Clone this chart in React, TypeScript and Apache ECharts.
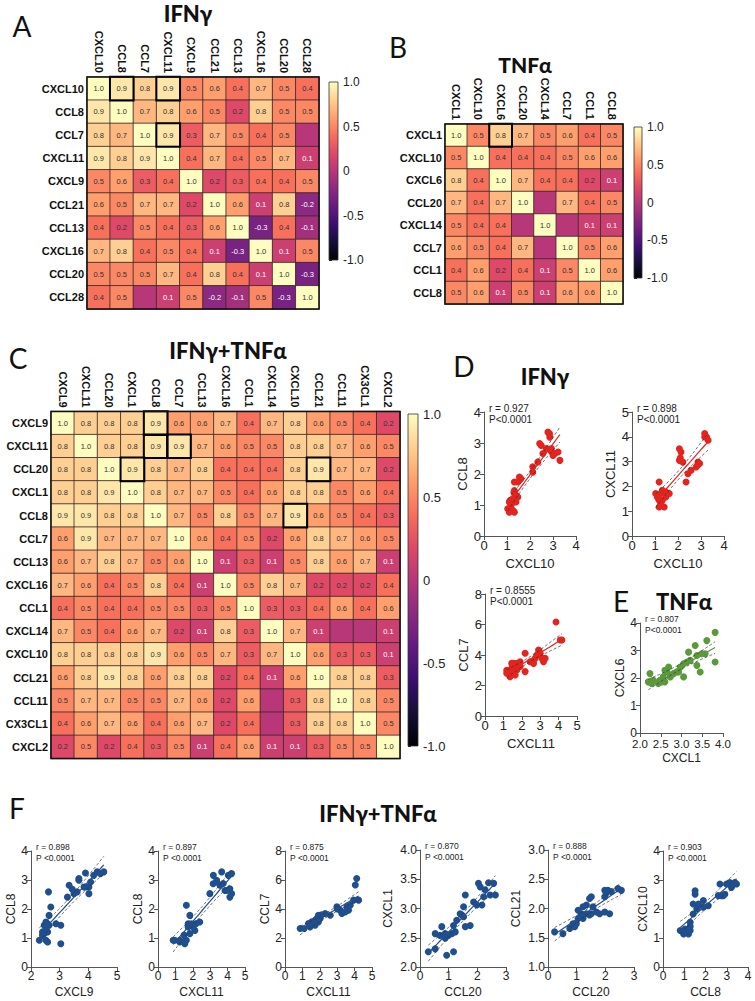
import React, { useEffect, useRef } from 'react';
import * as echarts from 'echarts';

// ---------------- DATA ----------------
const genesA = ['CXCL10', 'CCL8', 'CCL7', 'CXCL11', 'CXCL9', 'CCL21', 'CCL13', 'CXCL16', 'CCL20', 'CCL28'];
const corrA = [
  [1.0, 0.9, 0.8, 0.9, 0.5, 0.6, 0.4, 0.7, 0.5, 0.4],
  [0.9, 1.0, 0.7, 0.8, 0.6, 0.5, 0.2, 0.8, 0.5, 0.5],
  [0.8, 0.7, 1.0, 0.9, 0.3, 0.7, 0.5, 0.4, 0.5, 0.0],
  [0.9, 0.8, 0.9, 1.0, 0.4, 0.7, 0.4, 0.5, 0.7, 0.1],
  [0.5, 0.6, 0.3, 0.4, 1.0, 0.2, 0.3, 0.4, 0.4, 0.5],
  [0.6, 0.5, 0.7, 0.7, 0.2, 1.0, 0.6, 0.1, 0.8, -0.2],
  [0.4, 0.2, 0.5, 0.4, 0.3, 0.6, 1.0, -0.3, 0.4, -0.1],
  [0.7, 0.8, 0.4, 0.5, 0.4, 0.1, -0.3, 1.0, 0.1, 0.5],
  [0.5, 0.5, 0.5, 0.7, 0.4, 0.8, 0.4, 0.1, 1.0, -0.3],
  [0.4, 0.5, 0.0, 0.1, 0.5, -0.2, -0.1, 0.5, -0.3, 1.0],
];
const boxedA = [['CXCL10', 'CCL8'], ['CXCL10', 'CXCL11'], ['CCL7', 'CXCL11']];

const genesB = ['CXCL1', 'CXCL10', 'CXCL6', 'CCL20', 'CXCL14', 'CCL7', 'CCL1', 'CCL8'];
const corrB = [
  [1.0, 0.5, 0.8, 0.7, 0.5, 0.6, 0.4, 0.5],
  [0.5, 1.0, 0.4, 0.4, 0.4, 0.5, 0.6, 0.6],
  [0.8, 0.4, 1.0, 0.7, 0.4, 0.4, 0.2, 0.1],
  [0.7, 0.4, 0.7, 1.0, 0.0, 0.7, 0.4, 0.5],
  [0.5, 0.4, 0.4, 0.0, 1.0, 0.0, 0.1, 0.1],
  [0.6, 0.5, 0.4, 0.7, 0.0, 1.0, 0.5, 0.6],
  [0.4, 0.6, 0.2, 0.4, 0.1, 0.5, 1.0, 0.6],
  [0.5, 0.6, 0.1, 0.5, 0.1, 0.6, 0.6, 1.0],
];
const boxedB = [['CXCL1', 'CXCL6']];

const genesC = ['CXCL9', 'CXCL11', 'CCL20', 'CXCL1', 'CCL8', 'CCL7', 'CCL13', 'CXCL16', 'CCL1', 'CXCL14', 'CXCL10', 'CCL21', 'CCL11', 'CX3CL1', 'CXCL2'];
const corrC = [
  [1.0, 0.8, 0.8, 0.8, 0.9, 0.6, 0.6, 0.7, 0.4, 0.7, 0.8, 0.6, 0.5, 0.4, 0.2],
  [0.8, 1.0, 0.8, 0.8, 0.9, 0.9, 0.7, 0.6, 0.5, 0.5, 0.8, 0.8, 0.7, 0.6, 0.5],
  [0.8, 0.8, 1.0, 0.9, 0.8, 0.7, 0.8, 0.4, 0.4, 0.4, 0.8, 0.9, 0.7, 0.7, 0.2],
  [0.8, 0.8, 0.9, 1.0, 0.8, 0.7, 0.7, 0.5, 0.4, 0.6, 0.8, 0.8, 0.5, 0.6, 0.4],
  [0.9, 0.9, 0.8, 0.8, 1.0, 0.7, 0.5, 0.8, 0.5, 0.7, 0.9, 0.6, 0.5, 0.4, 0.3],
  [0.6, 0.9, 0.7, 0.7, 0.7, 1.0, 0.6, 0.4, 0.5, 0.2, 0.6, 0.8, 0.7, 0.6, 0.5],
  [0.6, 0.7, 0.8, 0.7, 0.5, 0.6, 1.0, 0.1, 0.3, 0.1, 0.5, 0.8, 0.6, 0.7, 0.1],
  [0.7, 0.6, 0.4, 0.5, 0.8, 0.4, 0.1, 1.0, 0.5, 0.8, 0.7, 0.2, 0.2, 0.2, 0.4],
  [0.4, 0.5, 0.4, 0.4, 0.5, 0.5, 0.3, 0.5, 1.0, 0.3, 0.3, 0.4, 0.6, 0.4, 0.6],
  [0.7, 0.5, 0.4, 0.6, 0.7, 0.2, 0.1, 0.8, 0.3, 1.0, 0.7, 0.1, 0.0, 0.0, 0.1],
  [0.8, 0.8, 0.8, 0.8, 0.9, 0.6, 0.5, 0.7, 0.3, 0.7, 1.0, 0.6, 0.3, 0.3, 0.1],
  [0.6, 0.8, 0.9, 0.8, 0.6, 0.8, 0.8, 0.2, 0.4, 0.1, 0.6, 1.0, 0.8, 0.8, 0.3],
  [0.5, 0.7, 0.7, 0.5, 0.5, 0.7, 0.6, 0.2, 0.6, 0.0, 0.3, 0.8, 1.0, 0.8, 0.5],
  [0.4, 0.6, 0.7, 0.6, 0.4, 0.6, 0.7, 0.2, 0.4, 0.0, 0.3, 0.8, 0.8, 1.0, 0.5],
  [0.2, 0.5, 0.2, 0.4, 0.3, 0.5, 0.1, 0.4, 0.6, 0.1, 0.1, 0.3, 0.5, 0.5, 1.0],
];
const boxedC = [['CXCL9', 'CCL8'], ['CXCL11', 'CCL8'], ['CXCL11', 'CCL7'], ['CCL20', 'CXCL1'], ['CCL20', 'CCL21'], ['CCL8', 'CXCL10']];

const colorbarTicks = [-1, -0.5, 0, 0.5, 1];

// Scatter points [x, y]
const d1Points = [[2.78, 3.35], [2.86, 3.19], [2.85, 3.3], [3.22, 2.71], [3.3, 2.44], [2.93, 2.82], [2.71, 2.82], [2.49, 2.92], [2.42, 2.98], [2.56, 2.66], [3.08, 2.66], [3.0, 2.6], [2.34, 2.39], [2.12, 2.23], [2.12, 2.06], [1.6, 1.85], [1.54, 1.9], [1.47, 1.74], [1.32, 1.74], [1.32, 1.47], [1.39, 1.31], [1.47, 1.26], [1.25, 1.2], [1.1, 1.1], [1.17, 0.99], [1.03, 0.88], [1.25, 0.83], [1.1, 0.77], [1.32, 0.77], [1.17, 0.83], [1.39, 1.1], [1.2, 1.05], [1.15, 1.15], [1.3, 1.4], [2.9, 2.75]];
const d2Points = [[3.16, 4.13], [3.24, 3.99], [3.31, 3.86], [3.16, 3.99], [2.06, 3.52], [2.13, 3.39], [2.06, 3.05], [2.21, 2.98], [2.87, 2.98], [2.79, 2.78], [2.94, 2.92], [2.35, 2.18], [2.43, 2.51], [2.57, 2.65], [1.18, 2.18], [1.03, 1.71], [1.1, 1.57], [1.25, 1.71], [1.32, 1.84], [1.47, 1.77], [1.62, 1.71], [1.18, 1.44], [1.18, 1.17], [1.4, 1.17], [1.25, 1.3], [1.47, 1.57], [1.32, 1.44], [1.1, 1.64], [2.1, 3.15], [2.85, 2.85]];
const d3Points = [[4.09, 4.98], [4.18, 4.98], [3.86, 6.16], [2.91, 4.33], [3.0, 4.11], [2.82, 4.0], [3.09, 3.78], [2.64, 3.45], [2.18, 4.11], [2.18, 2.91], [1.73, 3.45], [1.64, 3.24], [1.55, 3.45], [1.45, 3.13], [1.27, 2.91], [1.18, 2.8], [1.36, 2.58], [1.55, 2.8], [1.73, 3.02], [1.91, 3.24], [2.45, 3.56], [2.73, 3.78], [3.18, 3.56], [3.27, 3.78], [1.91, 3.56], [1.64, 2.69], [1.45, 3.45], [1.18, 3.0], [2.95, 4.25]];
const ePoints = [[3.81, 3.66], [3.61, 3.36], [3.33, 3.18], [3.17, 2.94], [3.49, 2.88], [3.37, 2.82], [3.21, 2.64], [3.13, 2.58], [3.05, 2.52], [2.97, 2.4], [2.93, 2.22], [3.05, 2.04], [3.37, 2.46], [3.45, 2.22], [3.81, 2.58], [3.57, 2.88], [2.69, 2.4], [2.65, 2.22], [2.56, 2.04], [2.48, 1.92], [2.6, 1.86], [2.44, 1.8], [2.32, 1.92], [2.24, 2.16], [2.2, 1.86], [2.28, 1.8], [2.73, 2.04], [2.81, 2.16], [2.52, 1.86], [2.89, 2.22], [2.6, 2.28]];
const f1Points = [[3.33, 2.82], [3.67, 2.99], [3.61, 2.59], [3.5, 2.53], [3.27, 2.41], [3.85, 2.76], [4.02, 2.76], [4.02, 2.53], [4.08, 2.93], [2.69, 2.07], [2.63, 1.78], [2.52, 1.55], [2.58, 1.49], [2.46, 1.44], [2.63, 1.44], [2.4, 1.21], [2.52, 1.26], [2.58, 1.21], [2.29, 0.92], [2.52, 0.92], [2.58, 0.86], [2.87, 1.49], [3.04, 1.44], [3.04, 0.8], [2.61, 2.59], [2.46, 1.15], [2.4, 1.09], [3.9, 3.24], [4.31, 3.28], [4.54, 3.28], [4.42, 3.22], [4.19, 3.16], [3.67, 3.05], [3.9, 2.76], [3.44, 2.68]];
const f2Points = [[0.87, 0.92], [1.25, 0.86], [1.54, 0.8], [1.63, 0.92], [0.96, 0.92], [1.25, 0.92], [1.63, 2.13], [1.83, 1.78], [1.92, 1.49], [1.73, 1.38], [2.02, 1.38], [2.12, 1.26], [1.83, 1.15], [2.4, 1.55], [1.73, 1.49], [2.98, 2.53], [3.17, 2.87], [3.37, 2.93], [3.56, 2.82], [3.85, 2.64], [4.13, 2.41], [4.13, 2.7], [4.23, 2.53], [3.18, 3.16], [3.66, 3.28], [4.04, 3.16], [4.23, 3.22], [3.37, 2.99], [3.75, 2.88], [3.94, 2.64], [1.5, 1.1], [2.2, 1.5]];
const f3Points = [[0.87, 2.65], [1.1, 2.65], [1.44, 2.76], [1.63, 3.0], [1.73, 3.23], [1.54, 3.11], [1.83, 3.34], [1.92, 3.57], [2.02, 3.34], [2.31, 3.69], [2.6, 3.57], [2.98, 4.15], [3.17, 3.92], [3.27, 3.69], [3.56, 4.15], [3.65, 3.92], [3.75, 4.26], [3.94, 4.61], [4.04, 5.65], [4.23, 4.61], [4.12, 6.1], [1.73, 2.88], [1.54, 3.0], [1.35, 3.0], [1.92, 3.11], [3.46, 3.8], [2.1, 3.6], [3.0, 4.0]];
const f4Points = [[0.29, 2.26], [0.53, 2.31], [0.53, 2.57], [0.7, 2.54], [0.76, 2.69], [0.88, 2.57], [0.99, 2.54], [0.93, 2.2], [1.17, 2.26], [1.11, 2.57], [1.23, 2.6], [1.17, 2.71], [1.28, 2.8], [1.4, 2.91], [1.46, 2.89], [1.52, 3.03], [1.58, 2.69], [1.75, 2.71], [1.58, 3.23], [1.87, 3.11], [2.04, 3.43], [2.1, 3.37], [2.22, 3.2], [1.98, 3.06], [2.16, 3.06], [2.57, 3.43], [2.63, 3.23], [2.45, 3.23], [1.52, 2.86], [0.88, 2.49], [2.39, 3.44], [2.27, 3.32]];
const f5Points = [[0.23, 1.6], [0.52, 1.57], [0.76, 1.66], [0.87, 1.74], [0.99, 1.74], [1.05, 1.83], [1.16, 1.91], [1.22, 2.03], [1.34, 2.06], [1.45, 2.17], [1.51, 2.2], [1.51, 1.91], [1.45, 1.89], [1.69, 1.94], [1.8, 1.91], [1.98, 1.94], [2.15, 1.91], [1.57, 2.03], [1.98, 2.31], [2.03, 2.26], [2.09, 2.31], [2.21, 2.29], [2.44, 2.34], [2.56, 2.31], [1.34, 1.91], [1.98, 2.2], [1.05, 1.97], [0.93, 1.69], [1.22, 1.83]];
const f6Points = [[0.81, 1.26], [1.04, 1.2], [1.2, 1.14], [1.28, 1.26], [1.04, 1.31], [1.28, 1.54], [1.51, 2.51], [1.51, 2.63], [1.67, 2.17], [1.42, 2.17], [1.59, 2.0], [1.9, 2.29], [2.13, 2.11], [2.6, 2.46], [2.75, 2.46], [2.83, 2.46], [2.68, 2.86], [2.99, 2.86], [3.14, 2.91], [3.38, 2.91], [3.46, 2.86], [3.22, 2.74], [2.91, 2.51], [1.9, 2.06], [1.42, 1.83], [0.97, 1.14], [1.28, 1.4]];

// ---------------- STYLE ----------------
const MAGMA = ['#000004', '#140e36', '#3b0f70', '#641a80', '#8c2981', '#b73779', '#de4968', '#f7705c', '#fe9f6d', '#fecf92', '#fcfdbf'];
const FONT = '"Liberation Sans", Arial, sans-serif';
const TFONT = 'Lato, "Open Sans", sans-serif';
const RED = '#e3241f';
const GREEN = '#5a9a3c';
const BLUE = '#1f4f8f';

type Box = { left: number; top: number; width: number; height: number };

function fitLines(pts: number[][]) {
  const n = pts.length;
  let mx = 0, my = 0;
  pts.forEach(p => { mx += p[0]; my += p[1]; });
  mx /= n; my /= n;
  let sxx = 0, sxy = 0;
  pts.forEach(p => { sxx += (p[0] - mx) ** 2; sxy += (p[0] - mx) * (p[1] - my); });
  const b = sxy / sxx;
  const a = my - b * mx;
  let sse = 0;
  pts.forEach(p => { sse += (p[1] - a - b * p[0]) ** 2; });
  const s = Math.sqrt(sse / (n - 2));
  const t = 2.04;
  const xs = pts.map(p => p[0]);
  const x0 = Math.min(...xs), x1 = Math.max(...xs);
  const mid: number[][] = [], hi: number[][] = [], lo: number[][] = [];
  const steps = 30;
  for (let i = 0; i <= steps; i++) {
    const x = x0 + (x1 - x0) * i / steps;
    const y = a + b * x;
    const se = s * Math.sqrt(1 / n + (x - mx) ** 2 / sxx);
    mid.push([x, y]); hi.push([x, y + t * se]); lo.push([x, y - t * se]);
  }
  return { mid, hi, lo };
}

function buildOption() {
  const grids: any[] = [];
  const xAxes: any[] = [];
  const yAxes: any[] = [];
  const series: any[] = [];
  const visualMaps: any[] = [];
  const graphics: any[] = [];

  const addHeatmap = (genes: string[], matrix: number[][], boxed: string[][], box: Box) => {
    const gi = grids.length;
    grids.push({ ...box });
    xAxes.push({
      type: 'category', gridIndex: gi, data: genes, position: 'top',
      axisLine: { show: false }, axisTick: { show: false }, splitLine: { show: false },
      axisLabel: { rotate: 90, interval: 0, fontWeight: 'bold', fontSize: 11, color: '#111', fontFamily: FONT, margin: 4 },
    });
    yAxes.push({
      type: 'category', gridIndex: gi, data: genes, inverse: true,
      axisLine: { show: false }, axisTick: { show: false }, splitLine: { show: false },
      axisLabel: { interval: 0, fontWeight: 'bold', fontSize: 11, color: '#111', fontFamily: FONT, margin: 3 },
    });
    const data: any[] = [];
    matrix.forEach((row, i) => row.forEach((v, j) => data.push([j, i, v])));
    const si = series.length;
    series.push({
      type: 'heatmap', xAxisIndex: gi, yAxisIndex: gi, data,
      itemStyle: { borderColor: '#3a2626', borderWidth: 0.8 },
      emphasis: { disabled: true },
      label: {
        show: true, fontSize: 7.5, fontFamily: FONT,
        formatter: (p: any) => {
          const v = p.value[2];
          if (Math.abs(v) < 0.05) return '';
          const s = v.toFixed(1);
          return v <= 0.1 ? `{w|${s}}` : `{d|${s}}`;
        },
        rich: { w: { color: '#ffffff', fontSize: 7.5, fontFamily: FONT }, d: { color: '#333', fontSize: 7.5, fontFamily: FONT } },
      },
    });
    visualMaps.push({ type: 'continuous', show: false, min: -1, max: 1, dimension: 2, seriesIndex: si, inRange: { color: MAGMA } });
    const bdata = boxed.map(([r, c]) => [genes.indexOf(c), genes.indexOf(r), 1]);
    const bi = series.length;
    series.push({
      type: 'heatmap', xAxisIndex: gi, yAxisIndex: gi, data: bdata, z: 5,
      itemStyle: { borderColor: '#000', borderWidth: 2 },
      emphasis: { disabled: true }, label: { show: false },
    });
    visualMaps.push({ type: 'continuous', show: false, min: 0, max: 1, dimension: 2, seriesIndex: bi, inRange: { color: ['rgba(0,0,0,0)', 'rgba(0,0,0,0)'] } });
    graphics.push({
      type: 'rect', z: 100, silent: true,
      shape: { x: box.left, y: box.top, width: box.width, height: box.height },
      style: { fill: 'none', stroke: '#111', lineWidth: 1.5 },
    });
  };

  const addColorbar = (box: Box, fs: number) => {
    const gi = grids.length;
    grids.push({ ...box });
    xAxes.push({ type: 'value', gridIndex: gi, show: false, min: 0, max: 1 });
    yAxes.push({
      type: 'value', gridIndex: gi, position: 'right', min: colorbarTicks[0], max: colorbarTicks[colorbarTicks.length - 1], interval: 0.5,
      axisLine: { show: false }, splitLine: { show: false },
      axisTick: { show: true, length: 3, lineStyle: { color: '#222' } },
      axisLabel: { fontSize: fs, color: '#222', fontFamily: FONT, margin: 5, formatter: (v: number) => (v === 0 ? '0' : v.toFixed(1)) },
    });
    const n = MAGMA.length - 1;
    const stops = MAGMA.map((c, i) => ({ offset: (n - i) / n, color: c })).reverse();
    graphics.push({
      type: 'rect', z: 50, silent: true,
      shape: { x: box.left, y: box.top, width: box.width, height: box.height },
      style: { fill: new echarts.graphic.LinearGradient(0, 0, 0, 1, stops), stroke: '#333', lineWidth: 0.8 },
    });
  };

  const addScatter = (o: {
    box: Box; xr: number[]; yr: number[]; xName: string; yName: string; pts: number[][]; color: string;
    r: string; p: string; big: boolean; xFmt?: (v: number) => string; yFmt?: (v: number) => string; yGap?: number;
    xfs?: number; xMargin?: number;
  }) => {
    const gi = grids.length;
    const fs = o.big ? 13 : 12;
    grids.push({ ...o.box });
    const axisCommon = {
      gridIndex: gi, type: 'value', nameLocation: 'middle',
      nameTextStyle: { fontSize: fs, color: '#222', fontFamily: FONT },
      axisLine: { show: true, onZero: false, lineStyle: { color: '#555', width: 1 } },
      axisTick: { show: true, length: 4, lineStyle: { color: '#555' } },
      splitLine: { show: false },
    };
    xAxes.push({
      ...axisCommon, min: o.xr[0], max: o.xr[1], interval: o.xr[2], name: o.xName, nameGap: o.big ? 21 : 19,
      axisLabel: { fontSize: o.xfs ?? fs, color: '#222', fontFamily: FONT, margin: o.xMargin ?? 3, formatter: o.xFmt },
    });
    yAxes.push({
      ...axisCommon, min: o.yr[0], max: o.yr[1], interval: o.yr[2], name: o.yName, nameGap: o.yGap ?? 14,
      axisLabel: { fontSize: fs, color: '#222', fontFamily: FONT, margin: 3, formatter: o.yFmt },
    });
    const fit = fitLines(o.pts);
    series.push({
      type: 'scatter', xAxisIndex: gi, yAxisIndex: gi, data: o.pts, symbolSize: 7,
      itemStyle: { color: o.color, opacity: 1 }, emphasis: { disabled: true },
    });
    series.push({
      type: 'line', xAxisIndex: gi, yAxisIndex: gi, data: fit.mid, showSymbol: false, z: 4,
      lineStyle: { color: o.color, width: 1.2 }, emphasis: { disabled: true },
    });
    [fit.hi, fit.lo].forEach(d => series.push({
      type: 'line', xAxisIndex: gi, yAxisIndex: gi, data: d, showSymbol: false, z: 4,
      lineStyle: { color: '#333', width: 0.7, type: [3, 2] }, emphasis: { disabled: true },
    }));
    const tfs = o.big ? 10 : 8.5;
    graphics.push({ type: 'text', x: o.box.left + 5, y: o.box.top - 4, style: { text: o.r, font: `${tfs}px ${FONT}`, fill: '#222', textVerticalAlign: 'middle', verticalAlign: 'middle' } });
    graphics.push({ type: 'text', x: o.box.left + 5, y: o.box.top - 4 + (o.big ? 11 : 10.5), style: { text: o.p, font: `${tfs}px ${FONT}`, fill: '#222', textVerticalAlign: 'middle', verticalAlign: 'middle' } });
  };

  // Heatmaps
  addHeatmap(genesA, corrA, boxedA, { left: 87, top: 77, width: 232, height: 232 });
  addHeatmap(genesB, corrB, boxedB, { left: 445, top: 124, width: 178, height: 180 });
  addHeatmap(genesC, corrC, boxedC, { left: 51, top: 411.5, width: 349, height: 347 });
  addColorbar({ left: 329, top: 82, width: 9, height: 178 }, 12);
  addColorbar({ left: 634, top: 127, width: 8, height: 151 }, 12);
  addColorbar({ left: 408, top: 414, width: 10, height: 332 }, 13);

  const f1 = (v: number) => v.toFixed(1);
  // D
  addScatter({ box: { left: 484, top: 412, width: 92, height: 124 }, xr: [0, 4, 1], yr: [0, 4, 1], xName: 'CXCL10', yName: 'CCL8', pts: d1Points, color: RED, r: 'r = 0.927', p: 'P<0.0001', big: true, yGap: 15 });
  addScatter({ box: { left: 632, top: 412, width: 92, height: 124 }, xr: [0, 4, 1], yr: [0, 5, 1], xName: 'CXCL10', yName: 'CXCL11', pts: d2Points, color: RED, r: 'r = 0.898', p: 'P<0.0001', big: true, yGap: 15 });
  addScatter({ box: { left: 485, top: 594, width: 92, height: 122 }, xr: [0, 5, 1], yr: [0, 8, 2], xName: 'CXCL11', yName: 'CCL7', pts: d3Points, color: RED, r: 'r = 0.8555', p: 'P<0.0001', big: true, yGap: 15 });
  // E
  addScatter({ box: { left: 640, top: 623, width: 83, height: 110 }, xr: [2, 4, 0.5], yr: [0, 4, 1], xName: 'CXCL1', yName: 'CXCL6', pts: ePoints, color: GREEN, r: 'r = 0.807', p: 'P<0.0001', big: false, xFmt: f1, yGap: 13, xfs: 11.5, xMargin: 5 });
  // F
  addScatter({ box: { left: 31, top: 851, width: 86, height: 116 }, xr: [2, 5, 1], yr: [0, 4, 1], xName: 'CXCL9', yName: 'CCL8', pts: f1Points, color: BLUE, r: 'r = 0.898', p: 'P <0.0001', big: false });
  addScatter({ box: { left: 158, top: 851, width: 87, height: 116 }, xr: [0, 5, 1], yr: [0, 4, 1], xName: 'CXCL11', yName: 'CCL8', pts: f2Points, color: BLUE, r: 'r = 0.897', p: 'P <0.0001', big: false });
  addScatter({ box: { left: 285, top: 851, width: 87, height: 116 }, xr: [0, 5, 1], yr: [0, 8, 2], xName: 'CXCL11', yName: 'CCL7', pts: f3Points, color: BLUE, r: 'r = 0.875', p: 'P <0.0001', big: false });
  addScatter({ box: { left: 420, top: 850, width: 86, height: 117 }, xr: [0, 3, 1], yr: [2, 4, 0.5], xName: 'CCL20', yName: 'CXCL1', pts: f4Points, color: BLUE, r: 'r = 0.870', p: 'P <0.0001', big: false, yFmt: f1, yGap: 26 });
  addScatter({ box: { left: 548, top: 850, width: 86, height: 117 }, xr: [0, 3, 1], yr: [1, 3, 0.5], xName: 'CCL20', yName: 'CCL21', pts: f5Points, color: BLUE, r: 'r = 0.888', p: 'P <0.0001', big: false, yFmt: f1, yGap: 26 });
  addScatter({ box: { left: 663, top: 851, width: 85, height: 116 }, xr: [0, 4, 1], yr: [0, 4, 1], xName: 'CCL8', yName: 'CXCL10', pts: f6Points, color: BLUE, r: 'r = 0.903', p: 'P <0.0001', big: false });

  // Panel letters and titles
  const letter = (t: string, x: number, y: number) => graphics.push({ type: 'text', x, y, style: { text: t, font: `28px ${TFONT}`, fill: '#111', textAlign: 'center', align: 'center', textVerticalAlign: 'middle', verticalAlign: 'middle' } });
  const title = (t: string, x: number, y: number, fs = 22) => graphics.push({ type: 'text', x, y, style: { text: t, font: `900 ${fs}px ${TFONT}`, fill: '#111', textAlign: 'center', align: 'center', textVerticalAlign: 'middle', verticalAlign: 'middle' } });
  letter('A', 22, 26); title('IFNγ', 188, 13);
  letter('B', 398, 47); title('TNFα', 525, 64, 21);
  letter('C', 18, 358); title('IFNγ+TNFα', 228, 350);
  letter('D', 464, 366); title('IFNγ', 545, 376);
  letter('E', 621, 601); title('TNFα', 684, 601);
  letter('F', 17, 808); title('IFNγ+TNFα', 378, 813);

  return {
    animation: false,
    textStyle: { fontFamily: FONT },
    grid: grids,
    xAxis: xAxes,
    yAxis: yAxes,
    visualMap: visualMaps,
    series,
    graphic: { elements: graphics },
  };
}

export default function App() {
  const ref = useRef<HTMLDivElement>(null);
  useEffect(() => {
    if (!ref.current) return;
    const chart = echarts.init(ref.current, undefined, { renderer: 'svg' });
    chart.setOption(buildOption() as any);
    return () => chart.dispose();
  }, []);
  return <div ref={ref} style={{ position: 'absolute', left: 0, top: 0, width: 755, height: 1001, background: '#fff' }} />;
}
